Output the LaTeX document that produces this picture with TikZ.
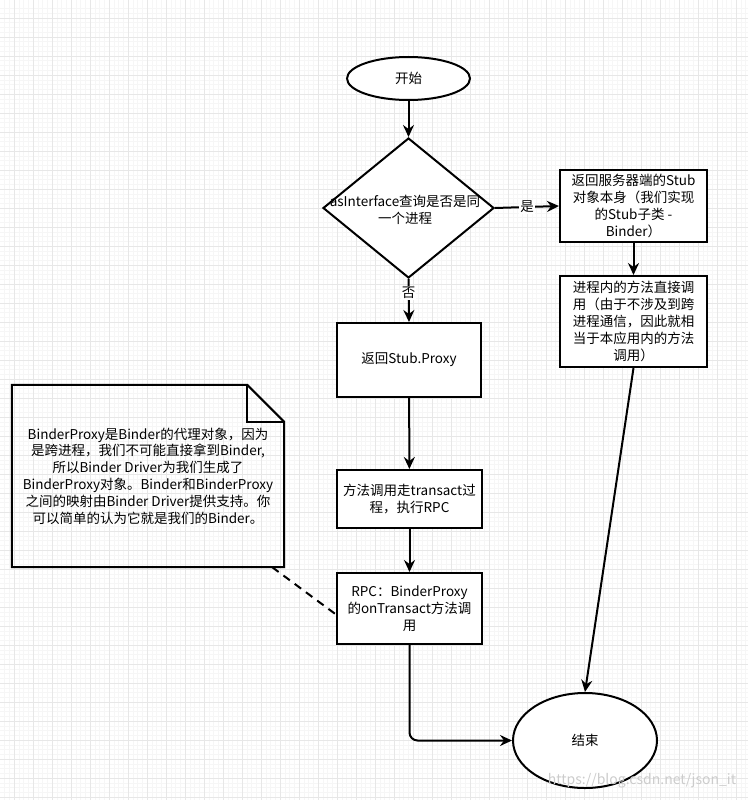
\documentclass[tikz,border=0pt]{standalone}
\usepackage{fontspec}
\setmainfont{Noto Sans CJK SC}
\usetikzlibrary{arrows.meta, positioning, calc, shapes.geometric}

\begin{document}
\begin{tikzpicture}[
    x=1pt, y=-1pt,
    font=\fontsize{13.5}{16.8}\selectfont,
    kotak/.style={draw, line width=2pt, fill=white, align=center, inner sep=2pt},
    ujung/.style={draw, ellipse, line width=2pt, fill=white, inner sep=0pt},
    putusan/.style={draw, diamond, line width=2pt, fill=white, inner sep=0pt,
                    minimum width=171pt, minimum height=140pt},
    panah/.style={-{Stealth[length=12pt, width=11pt, inset=4pt]}, line width=2pt},
    garis/.style={line width=2pt, dash pattern=on 8pt off 6pt},
    jaring/.style={gray!7, line width=0.5pt},
    jaringbesar/.style={gray!19, line width=0.8pt}
  ]
    \useasboundingbox (0,0) rectangle (748,800);
    % grid latar
    \foreach \g in {4.5,9.25,...,748} \draw[jaring] (\g,0) -- (\g,800);
    \foreach \g in {8.5,13.25,...,800} \draw[jaring] (0,\g) -- (748,\g);
    \foreach \g in {14,33,...,748} \draw[jaringbesar] (\g,0) -- (\g,800);
    \foreach \g in {18,37,...,800} \draw[jaringbesar] (0,\g) -- (748,\g);

    \node[ujung, minimum width=123pt, minimum height=43pt] (mulai) at (408.5,78.5) {开始};
    \node[putusan] (tanya) at (408.5,208) {};
    \node[align=center, inner sep=0pt] (tanyateks) at (405,210)
      {asInterface查询是否是同\\一个进程};
    \node[kotak, minimum width=147pt, minimum height=72pt] (stubdiri) at (633.5,206)
      {返回服务器端的Stub\\对象本身（我们实现\\的Stub子类 -\\Binder）};
    \node[kotak, minimum width=147pt, minimum height=91pt] (lokal) at (633.5,321.5)
      {进程内的方法直接调\\用（由于不涉及到跨\\进程通信，因此就相\\当于本应用内的方法\\调用）};
    \node[kotak, minimum width=144pt, minimum height=74pt] (proxy) at (409,360) {返回Stub.Proxy};
    \node[kotak, minimum width=145pt, minimum height=58pt] (transact) at (409.5,499)
      {方法调用走transact过\\程，执行RPC};
    \node[kotak, minimum width=145pt, minimum height=71pt] (rpc) at (409.5,608.5)
      {RPC：BinderProxy\\的onTransact方法调\\用};
    \node[ujung, minimum width=144pt, minimum height=95pt] (selesai) at (585,740.5) {结束};

    % catatan dengan sudut terlipat
    \node[minimum width=272pt, minimum height=182pt, align=center, inner sep=0pt] (catatan) at (148,476)
      {BinderProxy是Binder的代理对象，因为\\是跨进程，我们不可能直接拿到Binder,\\所以Binder Driver为我们生成了\\BinderProxy对象。Binder和BinderProxy\\之间的映射由Binder Driver提供支持。你\\可以简单的认为它就是我们的Binder。};
    \draw[line width=2pt, line join=miter]
      (catatan.south west) -- (catatan.north west) -- ($(catatan.north east)+(-37pt,0)$)
      -- ($(catatan.north east)+(0,-37pt)$) -- (catatan.south east) -- cycle;
    \draw[line width=2pt] ($(catatan.north east)+(-37pt,0)$) |- ($(catatan.north east)+(0,-37pt)$);

    \draw[panah] (mulai) -- (tanya.north);
    \draw[panah] (tanya.east) -- node[fill=white, inner sep=1pt] (ya) {是} (stubdiri.west);
    \draw[panah] (tanya.south) -- node[pos=0.33, fill=white, inner sep=1pt] (tidak) {否} (proxy.north);
    \draw[panah] (stubdiri) -- (lokal);
    \draw[panah] (proxy) -- (transact);
    \draw[panah] (transact) -- (rpc);
    \draw[panah] (lokal.south) -- (selesai.north);
    \draw[panah, rounded corners=8pt] (rpc.south) |- (selesai.west);
    \draw[garis] ($(catatan.south east)+(-12pt,0)$) -- ($(rpc.west)+(0,-6pt)$);

    \node[text=gray!40, font=\fontsize{14}{16}\selectfont] (tanda) at (642,781) {https://blog.csdn.net/json\_it};
  \end{tikzpicture}
\end{document}
